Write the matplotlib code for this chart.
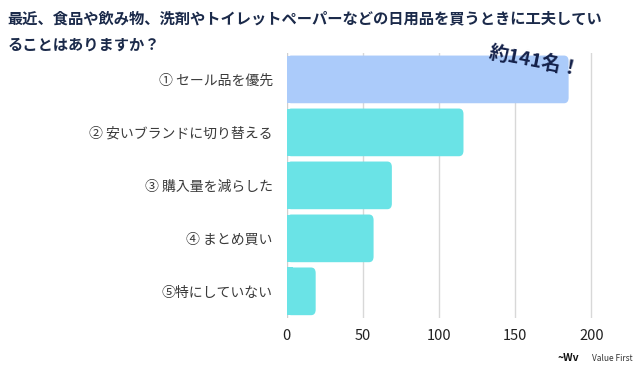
import matplotlib.pyplot as plt
from matplotlib.patches import FancyBboxPatch

plt.rcParams['font.family'] = ['Noto Sans CJK JP', 'DejaVu Sans']

labels = ['① セール品を優先', '② 安いブランドに切り替える', '③ 購入量を減らした',
          '④ まとめ買い', '⑤特にしていない']
values = [185, 116, 69, 57, 19]
colors = ['#abcbfa', '#6ae3e6', '#6ae3e6', '#6ae3e6', '#6ae3e6']
ticks = [0, 50, 100, 150, 200]

fig = plt.figure(figsize=(6.4, 3.7), dpi=100)
ax = fig.add_axes([0.448, 0.141, 0.50, 0.716])

ys = list(range(len(values)))
h = 0.9
for y, v, c in zip(ys, values, colors):
    # bar with rounded right corners
    ax.add_patch(FancyBboxPatch((0, y - h / 2), v, h,
                                boxstyle='round,pad=0,rounding_size=3',
                                mutation_aspect=0.035, fc=c, ec='none', zorder=2))
    ax.add_patch(plt.Rectangle((0, y - h / 2), min(v, 4), h, fc=c, ec='none', zorder=2))

ax.set_xlim(0, 210)
ax.set_ylim(len(values) - 0.5, -0.5)
ax.set_yticks(ys)
ax.set_yticklabels(labels, fontsize=10, color='#3a3a3a')
ax.set_xticks(ticks)
ax.set_xticklabels([str(t) for t in ticks], fontsize=10.5, color='#222222')
ax.tick_params(length=0, pad=8)
ax.tick_params(axis='y', pad=10)
for t in ticks[1:]:
    ax.axvline(t, color='#d8d8d8', lw=1, zorder=1)
for s in ax.spines.values():
    s.set_visible(False)
ax.axvline(0, color='#cfcfcf', lw=1, zorder=1)

fig.text(0.012, 0.95, '最近、食品や飲み物、洗剤やトイレットペーパーなどの日用品を買うときに工夫してい',
         fontsize=11, fontweight='bold', color='#1b2a4a', va='center')
fig.text(0.012, 0.878, 'ることはありますか？',
         fontsize=11, fontweight='bold', color='#1b2a4a', va='center')

fig.text(0.835, 0.835, '約141名！', fontsize=14, fontweight='bold', color='#14214a',
         rotation=-11, ha='center', va='center')

# logo
fig.text(0.988, 0.032, 'Value First', fontsize=6, color='#333333', ha='right', va='center')
fig.text(0.905, 0.032, '~Wv', fontsize=7.5, fontweight='bold', color='#111111', ha='right', va='center')

fig.savefig('out.png', dpi=100)
